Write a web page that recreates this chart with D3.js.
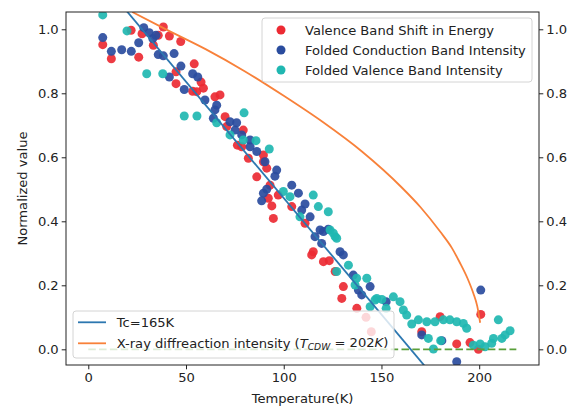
<!doctype html>
<html>
  <head>
    <script src="https://cdn.jsdelivr.net/npm/d3@7"></script>
    <style>
      body { margin: 0; background: #fff; }
      text { font-family: "DejaVu Sans", sans-serif; fill: #222; }
    </style>
  </head>
  <body>
    <svg id="chart" width="570" height="406"></svg>

    <script>
      // Valence Band Shift in Energy  [T, value]
      var redPoints = [
        [7.4,0.952],[11.8,0.908],[21.9,0.997],[25.8,0.913],[27.5,0.986],[33.3,0.950],[35.8,0.981],
        [38.4,1.007],[41.5,0.979],[47.3,0.962],[44.9,0.867],[44.9,0.830],[54.2,0.892],[53.4,0.806],
        [57.7,0.835],[58.9,0.816],[55.5,0.805],[67.4,0.795],[64.8,0.789],[70.0,0.727],[70.8,0.696],
        [79.3,0.685],[76.3,0.638],[78.5,0.633],[81.9,0.597],[89.6,0.607],[86.2,0.539],[91.3,0.566],
        [89.6,0.586],[93.0,0.513],[92.1,0.472],[93.9,0.448],[94.7,0.409],[97.2,0.482],[104.1,0.446],
        [110.9,0.394],[115.1,0.305],[114.3,0.295],[120.3,0.274],[123.3,0.277],[126.3,0.243],
        [130.5,0.196],[129.7,0.159],[137.4,0.128],[142.1,0.100],[144.8,0.055],[170.6,0.055],
        [180.0,0.102],[188.5,0.017],[195.3,0.021],[199.6,0.000],[200.8,0.109]
      ];
      // Folded Conduction Band Intensity
      var bluePoints = [
        [7.4,0.974],[11.8,0.931],[17.1,0.936],[22.0,0.931],[25.8,0.958],[28.4,1.005],[31.2,0.989],
        [33.0,0.971],[34.6,0.981],[35.8,0.921],[38.4,0.917],[43.9,0.924],[47.4,0.885],[41.5,0.851],
        [53.4,0.861],[56.0,0.851],[49.1,0.812],[59.7,0.779],[65.7,0.763],[64.8,0.748],[64.0,0.722],
        [72.5,0.711],[75.9,0.708],[75.1,0.685],[78.5,0.670],[82.8,0.654],[82.8,0.633],[86.2,0.618],
        [90.4,0.586],[96.4,0.560],[95.5,0.541],[91.3,0.500],[89.6,0.488],[88.7,0.464],[104.1,0.513],
        [107.5,0.488],[110.9,0.454],[109.2,0.435],[113.5,0.414],[118.6,0.373],[116.0,0.352],
        [120.3,0.368],[122.8,0.375],[119.4,0.331],[128.8,0.305],[130.5,0.295],[135.6,0.232],
        [144.2,0.196],[138.2,0.185],[139.9,0.170],[152.4,0.149],[170.6,0.045],[180.9,0.027],
        [188.5,-0.039],[200.8,0.185]
      ];
      // Folded Valence Band Intensity
      var tealPoints = [
        [7.4,1.045],[19.8,0.995],[29.9,0.861],[38.1,0.861],[49.1,0.729],[55.6,0.729],[79.7,0.739],
        [65.7,0.708],[72.5,0.670],[79.3,0.654],[85.8,0.652],[92.6,0.626],[99.8,0.493],[103.2,0.477],
        [115.1,0.482],[117.7,0.446],[122.8,0.430],[108.3,0.414],[123.7,0.373],[126.3,0.352],
        [125.4,0.363],[127.1,0.347],[133.1,0.263],[127.1,0.243],[137.3,0.222],[142.5,0.222],
        [136.5,0.201],[147.6,0.159],[144.2,0.133],[146.7,0.154],[150.2,0.156],[156.1,0.164],
        [159.5,0.149],[161.2,0.123],[152.4,0.128],[162.9,0.107],[165.5,0.079],[168.9,0.092],
        [173.2,0.086],[177.4,0.086],[181.7,0.092],[185.0,0.092],[188.5,0.086],[191.9,0.081],
        [193.6,0.066],[174.0,0.034],[180.3,0.027],[176.6,0.001],[197.0,0.013],[200.5,0.017],
        [203.0,0.008],[206.4,0.019],[207.3,0.034],[211.6,0.034],[213.3,0.045],[215.8,0.058],
        [209.8,0.092]
      ];
      // Tc=165K guide line end points
      var tcLine = [[0, 1.2], [175, -0.073]];
      // X-ray diffraction intensity curve
      var xrayCurve = [
        [22.5,1.054],[40,0.999],[60,0.938],[80,0.869],[100,0.792],[120,0.710],[140,0.618],
        [160,0.508],[170,0.444],[180,0.368],[186,0.317],[190,0.272],[194,0.222],[197,0.175],
        [199,0.135],[200.5,0.083]
      ];
      var zeroLine = [[0, 0], [219, 0]];

      var xTicks = [0, 50, 100, 150, 200];
      var yTicks = [0.0, 0.2, 0.4, 0.6, 0.8, 1.0];

      var seriesNames = ["Valence Band Shift in Energy", "Folded Conduction Band Intensity", "Folded Valence Band Intensity"];
      var seriesColors = ["#ec2a33", "#2a4c9e", "#20b7b1"];

      var mLeft = 66, mRight = 539, mTop = 12, mBottom = 365;

      var x = d3.scaleLinear().domain([-11.4, 230.6]).range([mLeft, mRight]);
      var y = d3.scaleLinear().domain([-0.049, 1.054]).range([mBottom, mTop]);

      var svg = d3.select("#chart");

      svg.append("defs").append("clipPath").attr("id", "clip")
        .append("rect").attr("x", mLeft).attr("y", mTop)
        .attr("width", mRight - mLeft).attr("height", mBottom - mTop);

      var plot = svg.append("g").attr("clip-path", "url(#clip)");
      var line = d3.line().x(d => x(d[0])).y(d => y(d[1]));

      [redPoints, bluePoints, tealPoints].forEach(function(pts, i) {
        plot.append("g").selectAll("circle")
          .data(pts)
          .enter()
          .append("circle")
          .attr("cx", d => x(d[0]))
          .attr("cy", d => y(d[1]))
          .attr("r", 4.5)
          .attr("fill", seriesColors[i])
          .attr("fill-opacity", 0.92)
      });

      plot.append("path").attr("d", line(tcLine))
        .attr("fill", "none").attr("stroke", "#2c77b0").attr("stroke-width", 1.8);

      plot.append("path").attr("d", line.curve(d3.curveMonotoneX)(xrayCurve))
        .attr("fill", "none").attr("stroke", "#f8813a").attr("stroke-width", 1.8);
      line.curve(d3.curveLinear);

      plot.append("path").attr("d", line(zeroLine))
        .attr("fill", "none").attr("stroke", "#5a9f3a").attr("stroke-width", 1.8)
        .attr("stroke-dasharray", "7.5,3.3");

      // axes
      var fs = "13.1px";
      var gx = svg.append("g").attr("transform", "translate(0," + mBottom + ")")
        .call(d3.axisBottom(x).tickValues(xTicks).tickSize(4.3).tickPadding(3).tickFormat(d3.format("d")));
      var gyl = svg.append("g").attr("transform", "translate(" + mLeft + ",0)")
        .call(d3.axisLeft(y).tickValues(yTicks).tickSize(4.3).tickPadding(3).tickFormat(d3.format(".1f")));
      var gyr = svg.append("g").attr("transform", "translate(" + mRight + ",0)")
        .call(d3.axisRight(y).tickValues(yTicks).tickSize(4.3).tickPadding(3).tickFormat(d3.format(".1f")));
      [gx, gyl, gyr].forEach(function(g) {
        g.select(".domain").remove();
        g.selectAll(".tick line").attr("stroke", "#222").attr("stroke-width", 1);
        g.selectAll(".tick text").attr("font-family", "DejaVu Sans").attr("font-size", fs).attr("fill", "#222");
      });

      svg.append("rect").attr("x", mLeft).attr("y", mTop)
        .attr("width", mRight - mLeft).attr("height", mBottom - mTop)
        .attr("fill", "none").attr("stroke", "#222").attr("stroke-width", 1);

      svg.append("text").attr("x", (mLeft + mRight) / 2).attr("y", 403)
        .attr("text-anchor", "middle").attr("font-size", fs).text("Temperature(K)");
      svg.append("text").attr("transform", "translate(27," + ((mTop + mBottom) / 2) + ") rotate(-90)")
        .attr("text-anchor", "middle").attr("font-size", fs).text("Normalized value");

      // legend 1: scatter series
      var lg1 = svg.append("g");
      lg1.append("rect").attr("x", 262).attr("y", 18).attr("width", 270).attr("height", 64).attr("rx", 3)
        .attr("fill", "#fff").attr("fill-opacity", 0.8).attr("stroke", "#d4d4d4");
      seriesNames.forEach(function(name, i) {
        lg1.append("circle").attr("cx", 281).attr("cy", 30 + i * 20).attr("r", 4.5).attr("fill", seriesColors[i]);
        lg1.append("text").attr("x", 305).attr("y", 30 + i * 20).attr("dy", "0.36em")
          .attr("font-size", fs).text(name);
      });

      // legend 2: lines
      var lg2 = svg.append("g");
      lg2.append("rect").attr("x", 73).attr("y", 311).attr("width", 321).attr("height", 47).attr("rx", 3)
        .attr("fill", "#fff").attr("fill-opacity", 0.8).attr("stroke", "#d4d4d4");
      lg2.append("line").attr("x1", 78).attr("x2", 106).attr("y1", 322.3).attr("y2", 322.3)
        .attr("stroke", "#2c77b0").attr("stroke-width", 1.8);
      lg2.append("line").attr("x1", 78).attr("x2", 106).attr("y1", 343.3).attr("y2", 343.3)
        .attr("stroke", "#f8813a").attr("stroke-width", 1.8);
      lg2.append("text").attr("x", 116.7).attr("y", 322.3).attr("dy", "0.36em").attr("font-size", fs).text("Tc=165K");
      var t2 = lg2.append("text").attr("x", 116.7).attr("y", 343.3).attr("dy", "0.36em").attr("font-size", fs);
      t2.append("tspan").text("X-ray diffreaction intensity (");
      t2.append("tspan").attr("font-style", "italic").text("T");
      t2.append("tspan").attr("font-style", "italic").attr("font-size", "9.2px").attr("dy", "0.25em").text("CDW");
      t2.append("tspan").attr("dy", "-0.25em").text(" = 202");
      t2.append("tspan").attr("font-style", "italic").text("K");
      t2.append("tspan").text(")");
    </script>
  </body>
</html>
